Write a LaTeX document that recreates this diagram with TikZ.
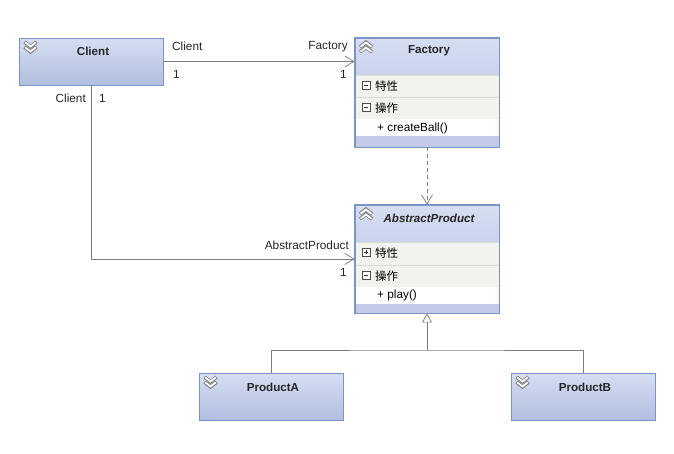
\documentclass[tikz,border=0pt]{standalone}
\usepackage{fontspec}
\setmainfont{Liberation Sans}
\newfontfamily\cjk{Noto Sans CJK SC}
\usetikzlibrary{arrows.meta,calc}
\definecolor{boxborder}{HTML}{7A94C4}
\definecolor{hdtop}{HTML}{D6DEF2}
\definecolor{hdbot}{HTML}{B2BEE0}
\definecolor{rowbg}{HTML}{F1F3EC}
\definecolor{rowline}{HTML}{D9DDD2}
\definecolor{footbg}{HTML}{C1CAE7}
\definecolor{linegray}{HTML}{7C7C7C}
\definecolor{icongray}{HTML}{7E7E7E}
\tikzset{
  x=1pt,y=-1pt,
  classbox/.style={draw=boxborder,line width=0.9pt,top color=hdtop,bottom color=hdbot,minimum width=144pt,inner sep=0pt},
  title/.style={font=\fontsize{11.6}{13}\selectfont\bfseries,text=black!85},
  lbl/.style={font=\fontsize{11.8}{13}\selectfont,inner sep=0pt,text=black!85},
  rowtxt/.style={font=\cjk\fontsize{11.5}{13}\selectfont,inner sep=0pt,anchor=west},
  optxt/.style={font=\fontsize{11.8}{13}\selectfont,inner sep=0pt,anchor=west},
  conn/.style={draw=linegray,line width=0.7pt},
  assoc/.style={conn,-{Straight Barb[length=9pt,width=11pt,line width=0.7pt]}},
  gen/.style={conn,-{Triangle[open,length=9pt,width=10pt,fill=white,line width=0.7pt]}},
}
\newcommand{\chevdown}[2]{%
  \foreach \dy in {0,5}{%
    \draw[icongray,line width=3.6pt,line join=miter] ($(#1,#2)+(-6,\dy-3)$) -- ($(#1,#2)+(0,\dy+1.8)$) -- ($(#1,#2)+(6,\dy-3)$);
    \draw[white,line width=1.8pt] ($(#1,#2)+(-5.4,\dy-2.7)$) -- ($(#1,#2)+(0,\dy+1.5)$) -- ($(#1,#2)+(5.4,\dy-2.7)$);}}
\newcommand{\chevup}[2]{%
  \foreach \dy in {0,5}{%
    \draw[icongray,line width=3.6pt,line join=miter] ($(#1,#2)+(-6,\dy+3)$) -- ($(#1,#2)+(0,\dy-1.8)$) -- ($(#1,#2)+(6,\dy+3)$);
    \draw[white,line width=1.8pt] ($(#1,#2)+(-5.4,\dy+2.7)$) -- ($(#1,#2)+(0,\dy-1.5)$) -- ($(#1,#2)+(5.4,\dy+2.7)$);}}
\newcommand{\minusbox}[2]{%
  \draw[black!70,fill=white,line width=0.6pt] (#1,#2) rectangle ++(8,8);
  \draw[black!80,line width=0.8pt] ($(#1,#2)+(2,4)$) -- ++(4,0);}
\newcommand{\plusbox}[2]{%
  \minusbox{#1}{#2}
  \draw[black!80,line width=0.8pt] ($(#1,#2)+(4,2)$) -- ++(0,4);}
\begin{document}
\begin{tikzpicture}
\useasboundingbox[fill=white] (0,0) rectangle (674,453);
% boxes
\node[classbox,minimum height=47pt] (client) at (91,61.5) {};
\node[classbox,minimum height=109pt] (factory) at (427,92.5) {};
\node[classbox,minimum height=108pt] (ap) at (427,259) {};
\node[classbox,minimum height=47pt] (pa) at (271,396.5) {};
\node[classbox,minimum height=47pt] (pb) at (583,396.5) {};
% factory compartments
\fill[rowbg] (355.5,75) rectangle (498.5,119);
\fill[white] (355.5,119) rectangle (498.5,136);
\fill[footbg] (355.5,136) rectangle (498.5,146.5);
\draw[rowline,line width=0.6pt] (355.5,75) -- (498.5,75) (355.5,97) -- (498.5,97);
\draw[boxborder,line width=0.9pt] (factory.north west) rectangle (factory.south east);
% ap compartments
\fill[rowbg] (355.5,242) rectangle (498.5,287);
\fill[white] (355.5,287) rectangle (498.5,304);
\fill[footbg] (355.5,304) rectangle (498.5,312.5);
\draw[rowline,line width=0.6pt] (355.5,242) -- (498.5,242) (355.5,265) -- (498.5,265);
\draw[boxborder,line width=0.9pt] (ap.north west) rectangle (ap.south east);
% titles
\node[title] at (93,51) {Client};
\node[title] at (429,51) {Factory};
\node[title,font=\fontsize{11.6}{13}\selectfont\bfseries\itshape] at (429,218) {AbstractProduct};
\node[title] at (273,387) {ProductA};
\node[title] at (585,387) {ProductB};
% icons
\chevdown{30.5}{45}
\chevdown{210.5}{380}
\chevdown{522.5}{380}
\chevup{366}{44}
\chevup{366}{211}
% rows
\minusbox{362}{81}
\node[rowtxt] at (375,86) {特性};
\minusbox{362}{103}
\node[rowtxt] at (375,108) {操作};
\node[optxt] at (377,128) {+ createBall()};
\plusbox{362}{248}
\node[rowtxt] at (375,253) {特性};
\minusbox{362}{271}
\node[rowtxt] at (375,276) {操作};
\node[optxt] at (377,295.5) {+ play()};
% connectors
\draw[assoc] (client.east) -- (client.east -| factory.west);
\draw[assoc] (client.south) |- (ap.west);
\draw[assoc,dashed,dash pattern=on 4pt off 3pt] (factory.south) -- (ap.north);
\coordinate (jn) at (427,350);
\draw[conn] (pa.north) |- (jn) -| (pb.north);
\draw[gen] (jn) -- (ap.south);
% labels
\node[lbl,anchor=west] at (172,46.5) {Client};
\node[lbl,anchor=west] at (173,74) {1};
\node[lbl,anchor=east] at (348,46.5) {Factory};
\node[lbl,anchor=east] at (347,74) {1};
\node[lbl,anchor=east] at (86,98.5) {Client};
\node[lbl,anchor=west] at (99,98.5) {1};
\node[lbl,anchor=east] at (349,245.5) {AbstractProduct};
\node[lbl,anchor=east] at (347,272) {1};
\end{tikzpicture}
\end{document}
